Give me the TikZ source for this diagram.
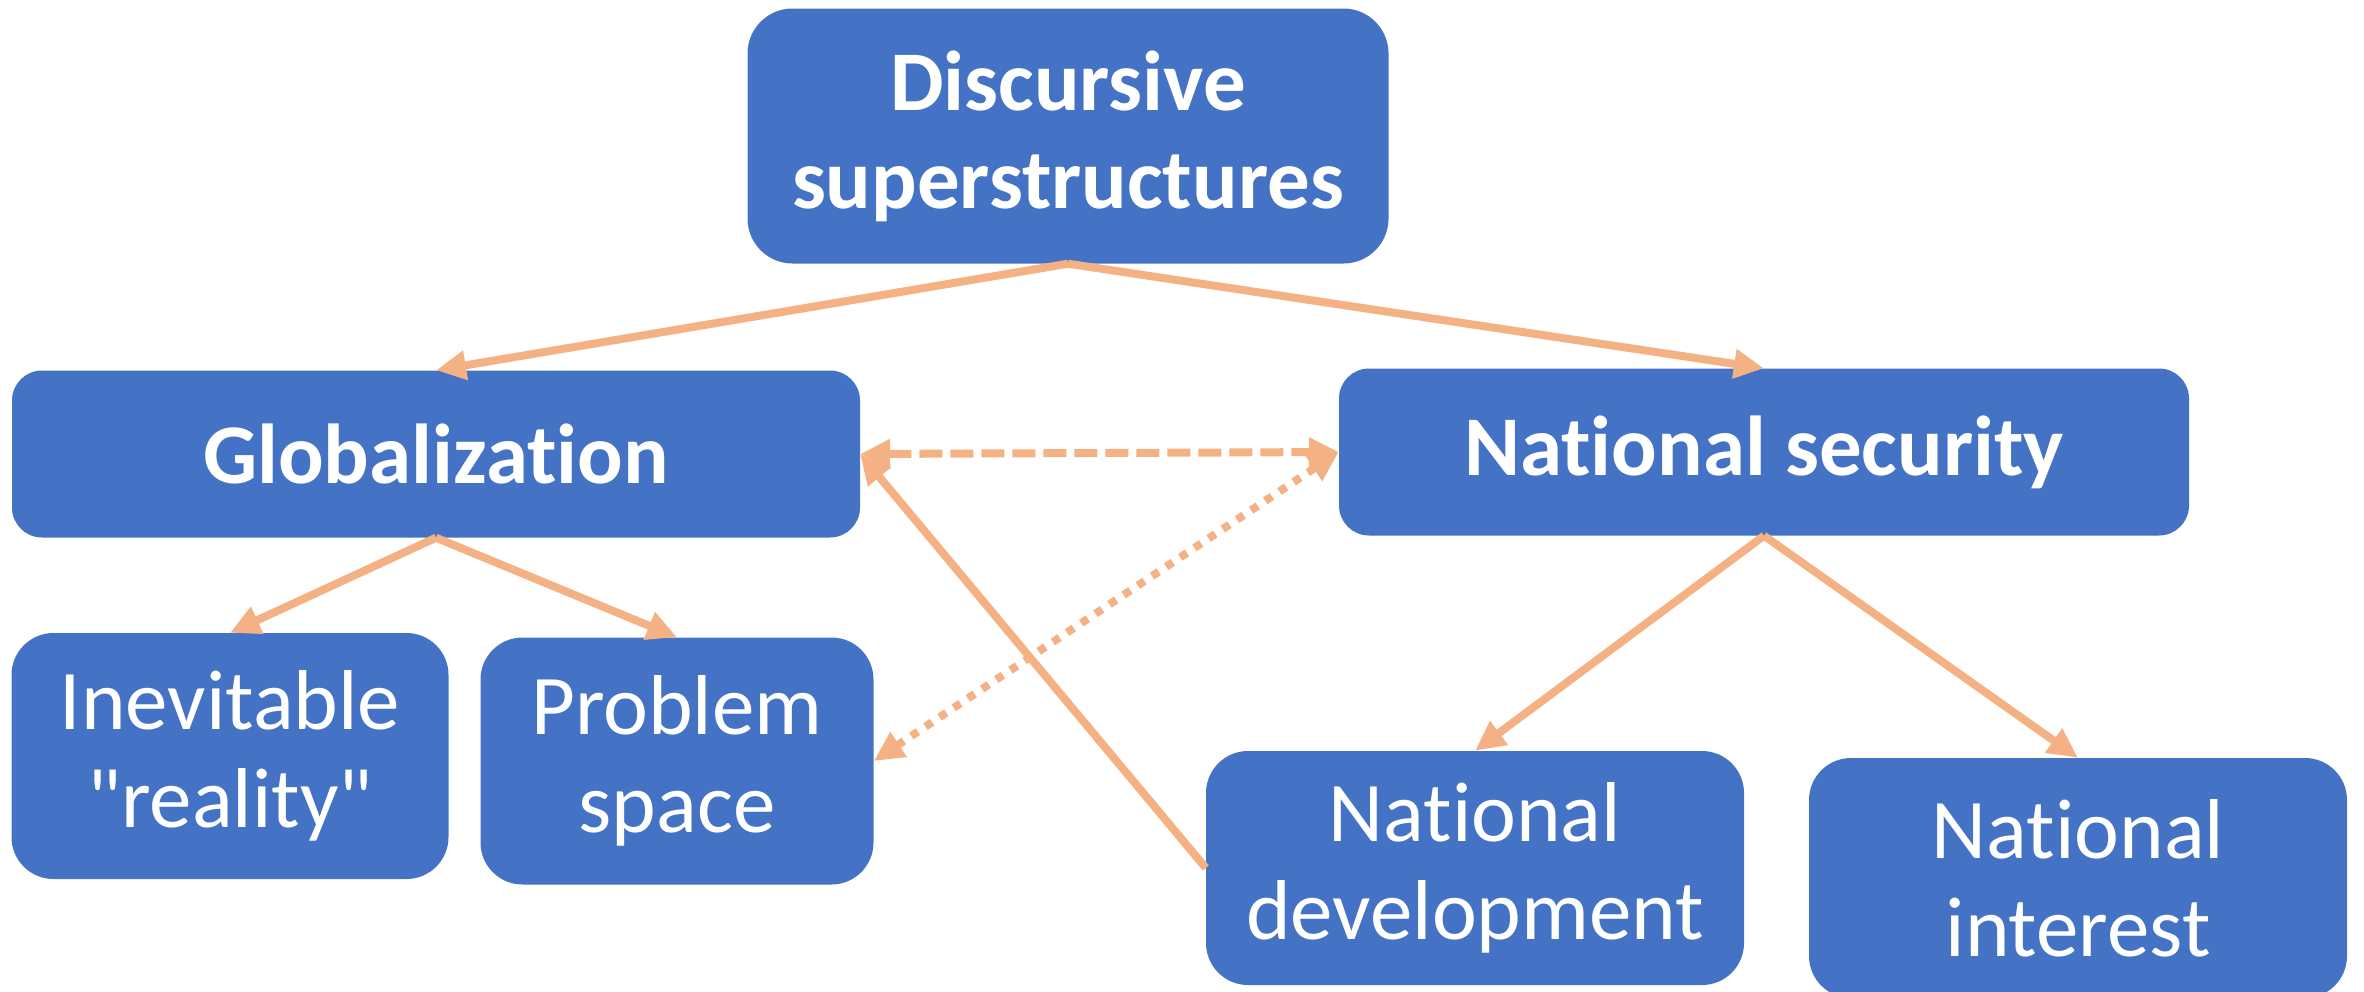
\documentclass[tikz,border=0pt]{standalone}
\usepackage{fontspec}
\setmainfont[Ligatures={NoCommon,TeXOff}]{Carlito}
\usetikzlibrary{arrows.meta}
\definecolor{ideablue}{HTML}{4472C4}
\definecolor{tiepeach}{HTML}{F4B183}
\tikzset{idea/.style={rectangle, fill=ideablue, text=white, align=center, inner sep=0pt,
    font=\fontsize{85}{98}\selectfont},
  headidea/.style={idea, font=\fontsize{85}{98}\selectfont\bfseries},
  tie/.style={draw=tiepeach, line width=8pt, -{Triangle[length=30pt,width=28pt]}},
  tiedash/.style={tie, {Triangle[length=30pt,width=28pt]}-{Triangle[length=30pt,width=28pt]}, dash pattern=on 23pt off 8pt},
  tiedot/.style={tiedash, dash pattern=on 8pt off 9pt}}

\begin{document}
\begin{tikzpicture}[x=1pt, y=-1pt]
    \clip (0,0) rectangle (2364,991);
    %top level
    \node[headidea, rounded corners=45pt, minimum width=641pt, minimum height=255pt]
      (disc) at (1068,136) {Discursive\\superstructures};
    %middle row
    \node[headidea, rounded corners=30pt, minimum width=848pt, minimum height=167pt]
      (glob) at (436,454) {Globalization};
    \node[headidea, rounded corners=30pt, minimum width=850pt, minimum height=167pt]
      (natsec) at (1764,452) {National security};
    %bottom row
    \node[idea, rounded corners=42pt, minimum width=437pt, minimum height=246pt]
      (inev) at (230,756) {Inevitable\\"reality"};
    \node[idea, rounded corners=42pt, minimum width=393pt, minimum height=247pt]
      (prob) at (677,761) {Problem\\space};
    \node[idea, rounded corners=42pt, minimum width=538pt, minimum height=234pt]
      (natdev) at (1475,868) {National\\development};
    \node[idea, rounded corners=42pt, minimum width=538pt, minimum height=240pt]
      (natint) at (2078,878) {National\\interest};

    % tree links
    \draw[tie] (disc.south) -- (glob.north);
    \draw[tie] (disc.south) -- (natsec.north);
    \draw[tie] (glob.south) -- (inev.north);
    \draw[tie] (glob.south) -- (prob.north);
    \draw[tie] (natsec.south) -- (natdev.north);
    \draw[tie] (natsec.south) -- (natint.north);
    % cross links
    \draw[tiedash] (glob.east) -- (natsec.west);
    \draw[tiedot] (prob.east) -- (natsec.west);
    \draw[tie] (natdev.west) -- (glob.east);
\end{tikzpicture}
\end{document}
